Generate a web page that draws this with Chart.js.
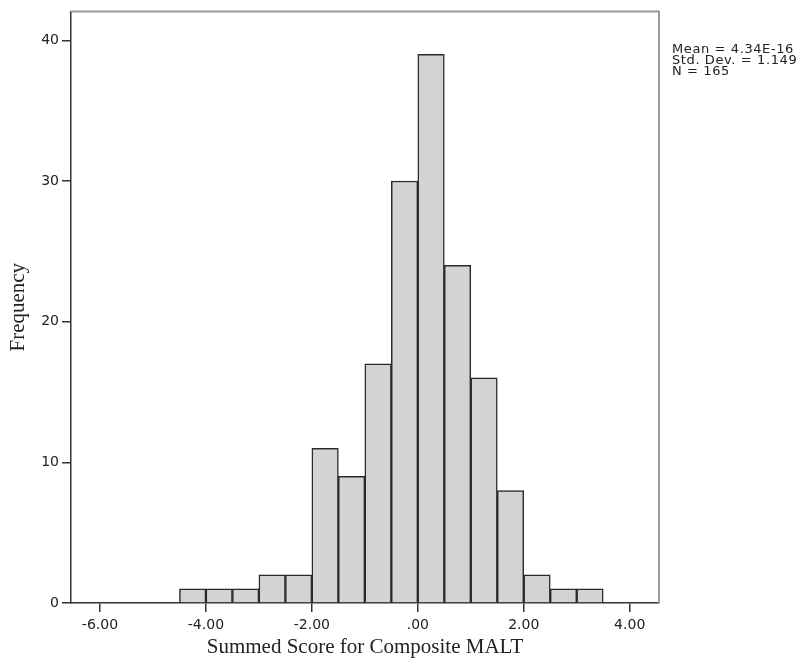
<!DOCTYPE html>
<html>
<head>
<meta charset="utf-8">
<script src="https://cdn.jsdelivr.net/npm/chart.js@4.4.1/dist/chart.umd.min.js"></script>
<style>
  html, body { margin: 0; padding: 0; background: #fff; }
  #wrap { width: 801px; height: 664px; }
</style>
</head>
<body>
<div id="wrap"><canvas id="histChart" width="801" height="664"></canvas></div>
<script>
const binCenters = [-4.25, -3.75, -3.25, -2.75, -2.25, -1.75, -1.25, -0.75, -0.25, 0.25, 0.75, 1.25, 1.75, 2.25, 2.75, 3.25];
const counts = [1, 1, 1, 2, 2, 11, 9, 17, 30, 39, 24, 16, 8, 2, 1, 1];
const xTicks = [-6, -4, -2, 0, 2, 4];
const xTickLabels = ["-6.00", "-4.00", "-2.00", ".00", "2.00", "4.00"];
const yTicks = [0, 10, 20, 30, 40];
const statsLines = ["Mean = 4.34E-16", "Std. Dev. = 1.149", "N = 165"];

const tickFont = { family: "DejaVu Sans", size: 14 };
const titleFont = { family: "Liberation Serif", size: 21 };

// grey frame on top/right plus the stats box text
const framePlugin = {
  id: "frame",
  afterDraw(chart) {
    const { ctx, chartArea } = chart;
    ctx.save();
    ctx.strokeStyle = "#9a9a9a";
    ctx.lineWidth = 2;
    ctx.beginPath();
    ctx.moveTo(chartArea.left, chartArea.top);
    ctx.lineTo(chartArea.right, chartArea.top);
    ctx.lineTo(chartArea.right, chartArea.bottom);
    ctx.stroke();

    ctx.fillStyle = "#222";
    ctx.font = "13px 'DejaVu Sans'";
    ctx.letterSpacing = "0.6px";
    ctx.textBaseline = "alphabetic";
    statsLines.forEach((line, i) => {
      ctx.fillText(line, chartArea.right + 13, 53 + i * 11);
    });
    ctx.letterSpacing = "0px";
    ctx.restore();
  },
};

const chart = new Chart(document.getElementById("histChart"), {
  type: "bar",
  data: {
    datasets: [
      {
        data: binCenters.map((x, i) => ({ x, y: counts[i] })),
        backgroundColor: "#d3d3d3",
        borderColor: "#2a2a2a",
        borderWidth: 1.5,
        barPercentage: 1,
        categoryPercentage: 1,
      },
    ],
  },
  options: {
    responsive: false,
    animation: false,
    layout: { padding: { top: 11, right: 142, left: 0, bottom: 0 } },
    plugins: { legend: { display: false }, tooltip: { enabled: false } },
    scales: {
      x: {
        type: "linear",
        min: -6.547,
        max: 4.553,
        offset: false,
        afterBuildTicks: (axis) => {
          axis.ticks = xTicks.map((v) => ({ value: v }));
        },
        afterFit: (axis) => {
          axis.height = 61;
        },
        ticks: {
          color: "#222",
          font: tickFont,
          padding: 5,
          maxRotation: 0,
          autoSkip: false,
          callback: (value, index) => xTickLabels[index],
        },
        grid: { offset: false, drawOnChartArea: false, drawTicks: true, tickLength: 9, color: "#333", lineWidth: 1.5 },
        border: { display: true, color: "#333", width: 1.5 },
        title: {
          display: true,
          text: "Summed Score for Composite MALT",
          color: "#222",
          font: titleFont,
          padding: { top: 4, bottom: 4 },
        },
      },
      y: {
        min: 0,
        max: 42.06,
        afterBuildTicks: (axis) => {
          axis.ticks = yTicks.map((v) => ({ value: v }));
        },
        afterFit: (axis) => {
          axis.width = 71;
        },
        ticks: { color: "#222", font: tickFont, padding: 3 },
        grid: { drawOnChartArea: false, drawTicks: true, tickLength: 9, color: "#333", lineWidth: 1.5 },
        border: { display: true, color: "#333", width: 1.5 },
        title: {
          display: true,
          text: "Frequency",
          color: "#222",
          font: titleFont,
          padding: { top: 6, bottom: 6 },
        },
      },
    },
  },
  plugins: [framePlugin],
});
</script>
</body>
</html>
